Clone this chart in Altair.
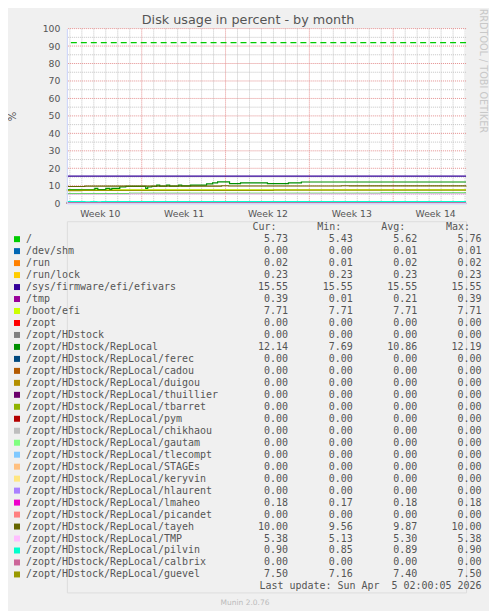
import json
import pandas as pd
import altair as alt

# ---------------- data ----------------
T_START = "2026-03-02T18:00:00Z"
T_END = "2026-04-05T02:00:00Z"

names = [
    "/", "/dev/shm", "/run", "/run/lock", "/sys/firmware/efi/efivars", "/tmp",
    "/boot/efi", "/zopt", "/zopt/HDstock", "/zopt/HDstock/RepLocal",
    "/zopt/HDstock/RepLocal/ferec", "/zopt/HDstock/RepLocal/cadou",
    "/zopt/HDstock/RepLocal/duigou", "/zopt/HDstock/RepLocal/thuillier",
    "/zopt/HDstock/RepLocal/tbarret", "/zopt/HDstock/RepLocal/pym",
    "/zopt/HDstock/RepLocal/chikhaou", "/zopt/HDstock/RepLocal/gautam",
    "/zopt/HDstock/RepLocal/tlecompt", "/zopt/HDstock/RepLocal/STAGEs",
    "/zopt/HDstock/RepLocal/keryvin", "/zopt/HDstock/RepLocal/hlaurent",
    "/zopt/HDstock/RepLocal/lmaheo", "/zopt/HDstock/RepLocal/picandet",
    "/zopt/HDstock/RepLocal/tayeh", "/zopt/HDstock/RepLocal/TMP",
    "/zopt/HDstock/RepLocal/pilvin", "/zopt/HDstock/RepLocal/calbrix",
    "/zopt/HDstock/RepLocal/guevel",
]
colors = [
    "#00CC00", "#0066B3", "#FF8000", "#FFCC00", "#330099", "#990099",
    "#CCFF00", "#FF0000", "#808080", "#008F00", "#00487D", "#B35A00",
    "#B38F00", "#6B006B", "#8FB300", "#B30000", "#BEBEBE", "#80FF80",
    "#80C9FF", "#FFC080", "#FFE680", "#AA80FF", "#EE00CC", "#FF8080",
    "#666600", "#FFBFFF", "#00FFCC", "#CC6699", "#999900",
]
cur = [5.73, 0.00, 0.02, 0.23, 15.55, 0.39, 7.71, 0.00, 0.00, 12.14,
       0.00, 0.00, 0.00, 0.00, 0.00, 0.00, 0.00, 0.00, 0.00, 0.00,
       0.00, 0.00, 0.18, 0.00, 10.00, 5.38, 0.90, 0.00, 7.50]
mins = [5.43, 0.00, 0.01, 0.23, 15.55, 0.01, 7.71, 0.00, 0.00, 7.69,
        0.00, 0.00, 0.00, 0.00, 0.00, 0.00, 0.00, 0.00, 0.00, 0.00,
        0.00, 0.00, 0.17, 0.00, 9.56, 5.13, 0.85, 0.00, 7.16]
avgs = [5.62, 0.01, 0.02, 0.23, 15.55, 0.21, 7.71, 0.00, 0.00, 10.86,
        0.00, 0.00, 0.00, 0.00, 0.00, 0.00, 0.00, 0.00, 0.00, 0.00,
        0.00, 0.00, 0.18, 0.00, 9.87, 5.30, 0.89, 0.00, 7.40]
maxs = [5.76, 0.01, 0.02, 0.23, 15.55, 0.39, 7.71, 0.00, 0.00, 12.19,
        0.00, 0.00, 0.00, 0.00, 0.00, 0.00, 0.00, 0.00, 0.00, 0.00,
        0.00, 0.00, 0.18, 0.00, 10.00, 5.38, 0.90, 0.00, 7.50]

# series (step changes); series not listed are flat
series = {
    "/": (
        [T_START, "2026-03-08T00:00:00Z", "2026-03-20T00:00:00Z", "2026-03-29T00:00:00Z", T_END],
        [5.43, 5.60, 5.65, 5.73, 5.73]),
    "/dev/shm": ([T_START, "2026-03-20T00:00:00Z", T_END], [0.01, 0.00, 0.00]),
    "/tmp": ([T_START, "2026-03-18T08:00:00Z", T_END], [0.01, 0.39, 0.39]),
    "/zopt/HDstock/RepLocal": (
        [T_START, "2026-03-05T02:00:00Z", "2026-03-05T08:00:00Z", "2026-03-06T00:00:00Z",
         "2026-03-06T08:00:00Z", "2026-03-06T12:00:00Z", "2026-03-07T04:00:00Z",
         "2026-03-07T16:00:00Z", "2026-03-09T08:00:00Z", "2026-03-09T12:00:00Z",
         "2026-03-09T20:00:00Z", "2026-03-10T06:00:00Z", "2026-03-10T12:00:00Z",
         "2026-03-11T02:00:00Z", "2026-03-11T08:00:00Z", "2026-03-12T02:00:00Z",
         "2026-03-12T08:00:00Z", "2026-03-13T02:00:00Z", "2026-03-14T10:00:00Z",
         "2026-03-14T22:00:00Z", "2026-03-15T08:00:00Z", "2026-03-16T08:00:00Z",
         "2026-03-17T06:00:00Z", "2026-03-19T12:00:00Z", "2026-03-21T06:00:00Z",
         "2026-03-22T08:00:00Z", T_END],
        [7.69, 8.45, 7.75, 8.45, 7.90, 8.50, 9.30, 9.70, 8.50, 9.30,
         9.70, 10.40, 9.80, 10.40, 9.80, 10.40, 9.90, 10.40, 11.10,
         11.70, 12.19, 11.20, 11.70, 11.20, 11.70, 12.14, 12.14]),
    "/zopt/HDstock/RepLocal/tayeh": (
        [T_START, "2026-03-04T06:00:00Z", "2026-03-15T16:00:00Z", "2026-03-16T06:00:00Z",
         "2026-03-25T16:00:00Z", "2026-03-26T08:00:00Z", T_END],
        [9.56, 9.75, 10.00, 9.85, 10.00, 9.92, 10.00]),
    "/zopt/HDstock/RepLocal/TMP": (
        [T_START, "2026-03-08T00:00:00Z", "2026-03-25T00:00:00Z", T_END],
        [5.13, 5.30, 5.38, 5.38]),
    "/zopt/HDstock/RepLocal/pilvin": (
        [T_START, "2026-03-04T06:00:00Z", "2026-03-04T18:00:00Z", "2026-03-05T06:00:00Z",
         "2026-03-05T16:00:00Z", T_END],
        [0.90, 0.85, 0.90, 0.85, 0.90, 0.90]),
    "/zopt/HDstock/RepLocal/guevel": (
        [T_START, "2026-03-04T00:00:00Z", "2026-03-20T00:00:00Z", "2026-03-31T00:00:00Z", T_END],
        [7.16, 7.40, 7.45, 7.50, 7.50]),
}

warning = [92]
y_ticks = list(range(0, 101, 10))
y_major = list(range(10, 101, 10))
y_minor = list(range(5, 100, 10))
week_labels = ["Week 10", "Week 11", "Week 12", "Week 13", "Week 14"]
week_centers = ["2026-03-05T12:00:00Z", "2026-03-12T12:00:00Z", "2026-03-19T12:00:00Z",
                "2026-03-26T12:00:00Z", "2026-04-02T12:00:00Z"]
week_starts = ["2026-03-09T00:00:00Z", "2026-03-16T00:00:00Z",
               "2026-03-23T00:00:00Z", "2026-03-30T00:00:00Z"]
day_lines = [d.strftime("%Y-%m-%dT%H:%M:%SZ")
             for d in pd.date_range("2026-03-03", "2026-04-05", freq="D")
             if d.strftime("%Y-%m-%dT%H:%M:%SZ") not in week_starts]
chart_title = "Disk usage in percent - by month"
last_update = "Last update: Sun Apr\u00a0 5 02:00:05 2026"
munin_version = "Munin 2.0.76"
rrd_credit = "RRDTOOL / TOBI OETIKER"
col_headers = ["Cur:", "Min:", "Avg:", "Max:"]


def ms(s):
    return int(pd.Timestamp(s).value // 10**6)


fmt = lambda a: [f"{x:.2f}" for x in a]
legend_df = pd.DataFrame({"row": names, "color": colors, "cur": fmt(cur),
                          "min": fmt(mins), "avg": fmt(avgs), "max": fmt(maxs)})

# ---------------- styles ----------------
TXT = "#555555"
AXIS_C = "#CFD6F8"
GRID_MINOR = "#C4C4C4"
GRID_MAJOR = "#E49090"
MONO = "DejaVu Sans Mono"

xscale = alt.Scale(type="utc", domain=[ms(T_START), ms(T_END)])
label_expr = f"{json.dumps(week_labels)}[round((datum.value - {ms(week_centers[0])}) / 604800000)]"
x_axis = alt.Axis(values=[ms(c) for c in week_centers], labelExpr=label_expr, title=None,
                  grid=False, ticks=False, tickSize=0, labelPadding=13,
                  labelBaseline="alphabetic", labelFontSize=9.3, labelColor=TXT,
                  domainColor=AXIS_C, domainWidth=1.5, labelAngle=0, labelFlush=False,
                  labelOverlap=False, zindex=1)
X = alt.X("t:T", scale=xscale, axis=x_axis)

yscale = alt.Scale(domain=[0, 100], nice=False)
y_axis = alt.Axis(values=y_ticks, title="%", titleX=-54, titleY=87.5, titleAngle=270,
                  titleBaseline="middle", titleAlign="center", titleFontSize=10,
                  titleFontWeight="normal", titleColor=TXT, grid=False, ticks=False,
                  tickSize=0, labelPadding=7, labelFontSize=9.3, labelColor=TXT,
                  domainColor=AXIS_C, domainWidth=1.2, labelFlush=False, zindex=1)
Y = alt.Y("v:Q", scale=yscale, axis=y_axis)

minor_x = alt.Chart(pd.DataFrame({"t": day_lines})).mark_rule(
    color=GRID_MINOR, strokeDash=[1, 1], strokeWidth=1).encode(x=X)
major_x = alt.Chart(pd.DataFrame({"t": week_starts})).mark_rule(
    color=GRID_MAJOR, strokeDash=[1, 1], strokeWidth=1).encode(x=X)
minor_y = alt.Chart(pd.DataFrame({"v": y_minor})).mark_rule(
    color=GRID_MINOR, strokeDash=[1, 1], strokeWidth=1).encode(y=Y)
major_y = alt.Chart(pd.DataFrame({"v": y_major})).mark_rule(
    color=GRID_MAJOR, strokeDash=[1, 1], strokeWidth=1).encode(y=Y)

# one layer per series, in legend order (later series drawn on top)
line_layers = []
for i, n in enumerate(names):
    if n in series:
        ts, vs = series[n]
    else:
        ts, vs = [T_START, T_END], [cur[i], cur[i]]
    df = pd.DataFrame({"t": ts, "v": vs})
    line_layers.append(alt.Chart(df).mark_line(
        interpolate="step-after", strokeWidth=1.2, color=colors[i]).encode(x=X, y=Y))

warn = alt.Chart(pd.DataFrame({"v": warning})).mark_rule(
    color="#00CC00", strokeDash=[6, 4], strokeWidth=1.2).encode(y=Y)

title_txt = alt.Chart(pd.DataFrame({"s": [chart_title]})).mark_text(
    align="center", baseline="alphabetic", fontSize=12.8, color=TXT,
    font="DejaVu Sans").encode(x=alt.value(181.5), y=alt.value(-4.5), text="s:N")
rrd = alt.Chart(pd.DataFrame({"s": [rrd_credit]})).mark_text(
    angle=90, align="left", baseline="middle", fontSize=9.7, color="#C8C8C8",
    font="DejaVu Sans").encode(x=alt.value(417), y=alt.value(-20), text="s:N")

plot = alt.layer(minor_x, minor_y, major_x, major_y, *line_layers, warn, title_txt, rrd).properties(
    width=400, height=175,
    view=alt.ViewBackground(fill="white", stroke=None),
)

# ---------------- legend table ----------------
row_domain = ["__hdr"] + names + ["__upd"]
ly = alt.Y("row:N", scale=alt.Scale(type="point", domain=row_domain, padding=0.5), axis=None)
base = alt.Chart(legend_df).encode(y=ly)
swatch = base.mark_square(size=36, opacity=1).encode(
    x=alt.value(-50), color=alt.Color("color:N", scale=None))
label = base.mark_text(align="left", baseline="middle", font=MONO, fontSize=10,
                       color=TXT).encode(x=alt.value(-41), text="row:N")
col_right = {"cur": 221.5, "min": 286.5, "avg": 351, "max": 415.5}
hdr_right = [210, 275, 339, 404]
layers = [swatch, label]
for col, xr in col_right.items():
    layers.append(base.mark_text(align="right", baseline="middle", font=MONO, fontSize=10,
                                 color=TXT).encode(x=alt.value(xr), text=f"{col}:N"))
for h, xr in zip(col_headers, hdr_right):
    layers.append(alt.Chart(pd.DataFrame({"row": ["__hdr"], "s": [h]})).mark_text(
        align="right", baseline="middle", font=MONO, fontSize=10, color=TXT).encode(
        y=ly, x=alt.value(xr), text="s:N"))
layers.append(alt.Chart(pd.DataFrame({"row": ["__upd"], "s": [last_update]})).mark_text(
    align="right", baseline="middle", font=MONO, fontSize=10, color=TXT).encode(
    y=ly, x=alt.value(415.5), text="s:N"))

legend = alt.layer(*layers).properties(width=400, height=12 * len(row_domain))

chart = alt.vconcat(plot, legend, spacing=18, bounds="flush").properties(
    background="#F0F0F0",
    padding={"left": 0, "top": 0, "right": 0, "bottom": 4},
    title=alt.TitleParams(munin_version, orient="bottom", anchor="middle", fontSize=7.5,
                          color="#BBBBBB", fontWeight="normal", font="DejaVu Sans",
                          offset=6, dx=-3),
).configure_view(stroke=None).configure_title(fontWeight="normal").configure(font="DejaVu Sans")

chart.save("out.html", embed_options={"renderer": "svg", "actions": False})
